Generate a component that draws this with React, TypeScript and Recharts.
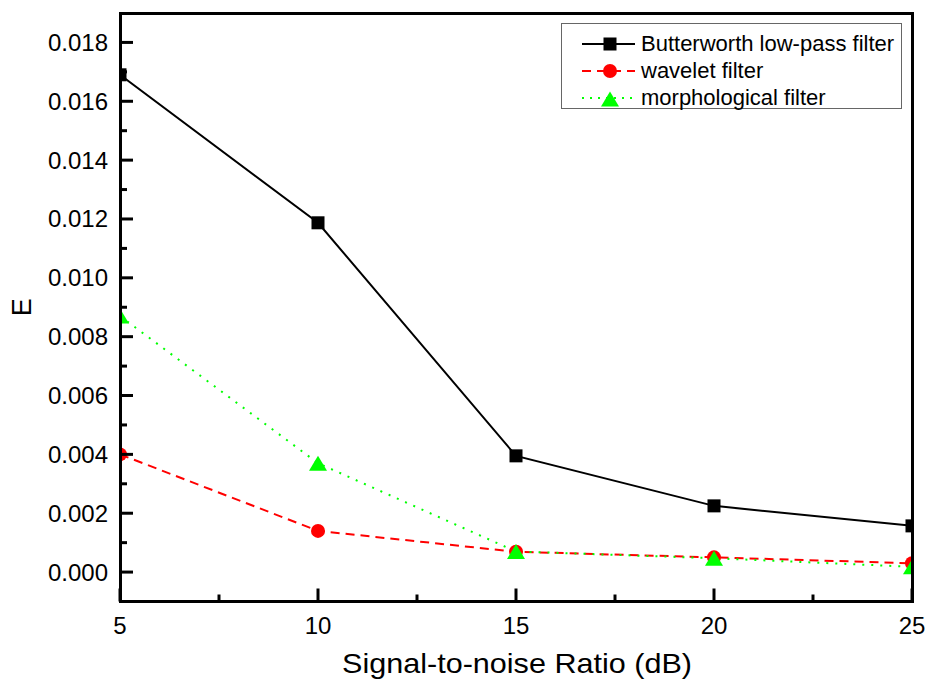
import { LineChart, Line, XAxis, YAxis } from 'recharts'

// SNR values on the x axis (dB)
const snr = [5, 10, 15, 20, 25]
const butterworth = [0.0169, 0.01187, 0.00395, 0.00225, 0.00157]
const wavelet = [0.004, 0.0014, 0.00069, 0.0005, 0.0003]
const morphological = [0.0087, 0.0037, 0.0007, 0.00047, 0.00018]

const xTicks = [5, 7.5, 10, 12.5, 15, 17.5, 20, 22.5, 25]
const yTicks = [
  0, 0.001, 0.002, 0.003, 0.004, 0.005, 0.006, 0.007, 0.008, 0.009, 0.01,
  0.011, 0.012, 0.013, 0.014, 0.015, 0.016, 0.017, 0.018,
]

const FONT = 'Arial, "Liberation Sans", sans-serif'

const data = snr.map((x, i) => ({
  snr: x,
  butterworth: butterworth[i],
  wavelet: wavelet[i],
  morphological: morphological[i],
}))

function Square({ cx, cy }: any) {
  const size = 13
  return <rect x={cx - size / 2} y={cy - size / 2} width={size} height={size} fill="#000" />
}

function Circle({ cx, cy }: any) {
  return <circle cx={cx} cy={cy} r={7} fill="#ff0000" />
}

function Triangle({ cx, cy }: any) {
  const w = 18
  const h = 15
  return (
    <polygon
      points={`${cx - w / 2},${cy + h / 2} ${cx + w / 2},${cy + h / 2} ${cx},${cy - h / 2}`}
      fill="#00ff00"
    />
  )
}

// ticks point inward, label only on every second one
function YTick({ x, y, payload }: any) {
  const major = Math.round(payload.value * 1000) % 2 === 0
  return (
    <g>
      <line x1={x} y1={y} x2={x + (major ? 13 : 7)} y2={y} stroke="#000" strokeWidth={3} />
      {major && (
        <text
          x={x - 12}
          y={y}
          textAnchor="end"
          dominantBaseline="central"
          fontSize={24}
          fontFamily={FONT}
          fill="#000"
        >
          {payload.value.toFixed(3)}
        </text>
      )}
    </g>
  )
}

function XTick({ x, y, payload }: any) {
  const major = payload.value % 5 === 0
  return (
    <g>
      <line x1={x} y1={y} x2={x} y2={y - (major ? 13 : 7)} stroke="#000" strokeWidth={3} />
      {major && (
        <text
          x={x}
          y={y + 24}
          textAnchor="middle"
          dominantBaseline="central"
          fontSize={24}
          fontFamily={FONT}
          fill="#000"
        >
          {payload.value}
        </text>
      )}
    </g>
  )
}

const legendItems = [
  { name: 'Butterworth low-pass filter', color: '#000', dash: undefined, mark: 'square' },
  { name: 'wavelet filter', color: '#ff0000', dash: '9 6', mark: 'circle' },
  { name: 'morphological filter', color: '#00ff00', dash: '2 6', mark: 'triangle' },
]

function LegendBox() {
  return (
    <div
      style={{
        position: 'absolute',
        left: 561,
        top: 23,
        width: 341,
        height: 86,
        border: '1px solid #666',
        background: '#fff',
        boxSizing: 'border-box',
        paddingTop: 6,
        fontFamily: FONT,
      }}
    >
      {legendItems.map((it) => (
        <div key={it.name} style={{ display: 'flex', alignItems: 'center', height: 27 }}>
          <svg width={79} height={20} style={{ flex: 'none' }}>
            <line
              x1={20}
              y1={10}
              x2={73}
              y2={10}
              stroke={it.color}
              strokeWidth={2}
              strokeDasharray={it.dash}
            />
            {it.mark === 'square' && <Square cx={48} cy={10} />}
            {it.mark === 'circle' && <Circle cx={48} cy={10} />}
            {it.mark === 'triangle' && <Triangle cx={48} cy={11} />}
          </svg>
          <span style={{ fontSize: 22, color: '#000', whiteSpace: 'nowrap' }}>{it.name}</span>
        </div>
      ))}
    </div>
  )
}

export default function App() {
  return (
    <div style={{ position: 'absolute', left: 0, top: 0, width: 927, height: 685, background: '#fff' }}>
      <LineChart
        width={927}
        height={685}
        data={data}
        margin={{ top: 13, right: 15, bottom: 13.5, left: 20 }}
        style={{ overflow: 'visible' }}
      >
        <XAxis
          dataKey="snr"
          type="number"
          domain={[5, 25]}
          allowDataOverflow
          ticks={xTicks}
          interval={0}
          axisLine={false}
          tickLine={false}
          tickSize={0}
          tickMargin={0}
          height={70}
          tick={<XTick />}
          label={{
            content: ({ viewBox }: any) => (
              <text
                x={517}
                y={673}
                textAnchor="middle"
                fontSize={28}
                textLength={350}
                lengthAdjust="spacingAndGlyphs"
                fontFamily={FONT}
                fill="#000"
              >
                Signal-to-noise Ratio (dB)
              </text>
            ),
          }}
        />
        <YAxis
          type="number"
          domain={[-0.001, 0.019]}
          ticks={yTicks}
          interval={0}
          axisLine={false}
          tickLine={false}
          tickSize={0}
          tickMargin={0}
          width={100}
          tick={<YTick />}
          label={{
            content: ({ viewBox }: any) => {
              const cx = 22
              const cy = viewBox.y + viewBox.height / 2
              return (
                <text
                  x={cx}
                  y={cy}
                  transform={`rotate(-90, ${cx}, ${cy})`}
                  textAnchor="middle"
                  dominantBaseline="central"
                  fontSize={27}
                  fontFamily={FONT}
                  fill="#000"
                >
                  E
                </text>
              )
            },
          }}
        />
        <Line
          dataKey="butterworth"
          name="Butterworth low-pass filter"
          stroke="#000"
          strokeWidth={2}
          dot={<Square />}
          activeDot={false}
          isAnimationActive={false}
        />
        <Line
          dataKey="wavelet"
          name="wavelet filter"
          stroke="#ff0000"
          strokeWidth={2}
          strokeDasharray="9 6"
          dot={<Circle />}
          activeDot={false}
          isAnimationActive={false}
        />
        <Line
          dataKey="morphological"
          name="morphological filter"
          stroke="#00ff00"
          strokeWidth={2}
          strokeDasharray="2 7"
          dot={<Triangle />}
          activeDot={false}
          isAnimationActive={false}
        />
      </LineChart>
      <LegendBox />
      {/* plot frame drawn over the markers, like the original */}
      <div
        style={{
          position: 'absolute',
          left: 118.5,
          top: 12,
          width: 795.5,
          height: 591,
          border: '3px solid #000',
          boxSizing: 'border-box',
          pointerEvents: 'none',
        }}
      />
    </div>
  )
}
